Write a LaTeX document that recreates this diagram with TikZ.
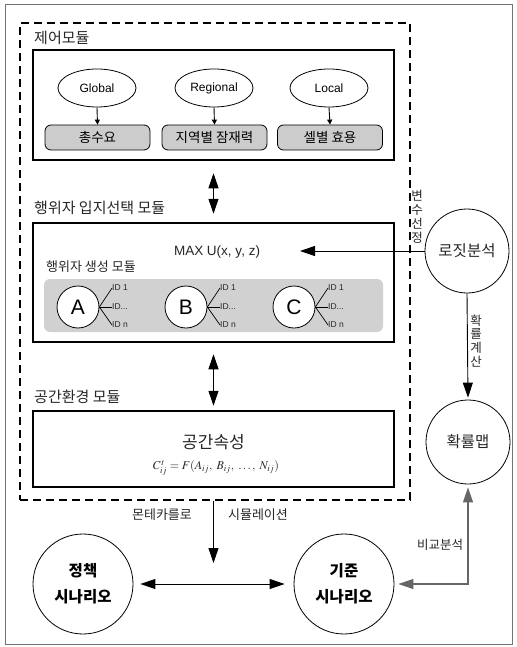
\documentclass[tikz,border=0pt]{standalone}
\usepackage{mathptmx}
\usepackage{fontspec}
\setmainfont{Noto Sans CJK KR}
\newfontfamily\latinfont{Liberation Sans}
\usetikzlibrary{arrows.meta,shapes.geometric}

\begin{document}
\begin{tikzpicture}[x=1pt,y=-1pt,
  txt/.style={text=black!85, inner sep=0pt},
  kor/.style={txt, font=\fontsize{#1}{#1}\selectfont},
  lat/.style={txt, font=\latinfont\fontsize{#1}{#1}\selectfont},
  frame/.style={draw=black!55, line width=1pt},
  dashbox/.style={draw, line width=2.6pt, dash pattern=on 8pt off 5pt, minimum width=390pt, minimum height=477pt, inner sep=0pt},
  modbox/.style={draw, line width=2.5pt, minimum width=361pt, inner sep=0pt},
  level/.style={ellipse, draw, line width=0.8pt, minimum width=78pt, minimum height=38pt, inner sep=0pt},
  factor/.style={draw, line width=0.8pt, rounded corners=6pt, fill=black!20, minimum width=105pt, minimum height=25pt, inner sep=0pt, font=\fontsize{13.5}{13.5}\selectfont},
  agent/.style={circle, draw, line width=0.8pt, fill=white, minimum size=42pt, inner sep=0pt, font=\latinfont\fontsize{21}{21}\selectfont},
  idlab/.style={lat=8.5, anchor=west},
  bigcirc/.style={circle, draw, line width=0.8pt, inner sep=0pt},
  conn/.style={line width=0.9pt},
  smallhead/.style={-{Triangle[length=5pt,width=5pt]}},
  bighead/.style={-{Triangle[length=15pt,width=10pt]}},
  bothheads/.style={{Triangle[length=15pt,width=10pt]}-{Triangle[length=15pt,width=10pt]}},
  vtext/.style={txt, align=center, font=\fontsize{12.5}{13.8}\selectfont},
  scen/.style={bigcirc, minimum size=100pt, align=center, font=\bfseries\fontsize{15.5}{26}\selectfont}
]
\useasboundingbox (0,0) rectangle (516,647);

% outer frame and the dashed module boundary
\draw[frame] (5,5) rectangle (512,644);
\node[dashbox] (outer) at (215,261.5) {};

% control module
\node[kor=15, anchor=west] (ctrllab) at (34,38) {제어모듈};
\node[modbox, minimum height=110pt] (ctrl) at (213.5,105) {};
\node[level] (glob) at (97,88) {\latinfont\fontsize{12}{12}\selectfont Global};
\node[level] (regi) at (214,88) {\latinfont\fontsize{12}{12}\selectfont Regional};
\node[level] (loca) at (329,88) {\latinfont\fontsize{12}{12}\selectfont Local};
\node[factor] (demand) at (97.5,137.5) {총수요};
\node[factor] (potent) at (214.5,137.5) {지역별 잠재력};
\node[factor] (util) at (330,137.5) {셀별 효용};
\draw[conn, smallhead] (glob.south) -- (demand.north);
\draw[conn, smallhead] (regi.south) -- (potent.north);
\draw[conn, smallhead] (loca.south) -- (util.north);

% actor location choice module
\node[kor=15, anchor=west] (actlab) at (34,208) {행위자 입지선택 모듈};
\node[modbox, minimum height=119pt] (actor) at (213.5,282.5) {};
\node[lat=13.5] (maxu) at (217,252) {MAX U(x, y, z)};
\coordinate (maxin) at (300,252);
\node[kor=13, anchor=west] (genlab) at (46,267) {행위자 생성 모듈};
\fill[black!18, rounded corners=6pt] (44,279) rectangle (383,332);

\foreach \n/\x in {A/78,B/186,C/294}{
  \node[agent] (\n) at (\x,307) {\n};
  \node[idlab] (\n1) at (\x+34,288) {ID 1};
  \node[idlab] (\n2) at (\x+34,307) {ID...};
  \node[idlab] (\n3) at (\x+34,325) {ID n};
  \draw[line width=0.7pt] (\n.east) -- (\n1.west);
  \draw[line width=0.7pt] (\n.east) -- (\n2.west);
  \draw[line width=0.7pt] (\n.east) -- (\n3.west);
}

% spatial environment module
\node[kor=15, anchor=west] (spclab) at (34,397) {공간환경 모듈};
\node[modbox, minimum height=76pt] (space) at (213.5,449) {};
\node[kor=17] (attr) at (213.5,442) {공간속성};
\node[txt] (formula) at (216,468) {\fontsize{12}{12}\selectfont $C^{\,t}_{ij} = F(A_{ij},\;B_{ij},\;\ldots,\;N_{ij})$};

\draw[conn, bothheads, shorten <=12pt, shorten >=8pt] (ctrl.south) -- (actor.north);
\draw[conn, bothheads, shorten <=11pt, shorten >=4pt] (actor.south) -- (space.north);

% logit analysis and probability map
\node[bigcirc, minimum size=84pt, kor=15.5] (logit) at (467,251) {로짓분석};
\node[bigcirc, minimum size=84pt, kor=15.5] (pmap) at (468,442) {확률맵};
\draw[conn, bighead] (logit.west) -- (logit.west -| maxin);
\draw[conn, bighead, shorten >=2pt] (logit.south) -- (pmap.north);
\node[vtext] (varsel) at (417,217) {변\\수\\선\\정};
\node[vtext] (probcalc) at (476,341) {확\\률\\계\\산};

% scenarios
\node[scen] (policy) at (83,584) {정책\\시나리오};
\node[scen] (base) at (344,584) {기준\\시나리오};
\coordinate (simtip) at (213.5,563);
\draw[conn, bighead] (simtip |- outer.south) -- (simtip);
\node[kor=13] (mc) at (162,515) {몬테카를로};
\node[kor=13] (sim) at (258,515) {시뮬레이션};
\draw[conn, bothheads, shorten <=7pt, shorten >=9pt] (policy.east) -- (base.west);
\draw[line width=1.1pt, draw=black!60, bothheads, shorten <=3pt, shorten >=4pt] (pmap.south) |- (base.east);
\node[kor=12.5] (comp) at (440,545) {비교분석};
\end{tikzpicture}
\end{document}
